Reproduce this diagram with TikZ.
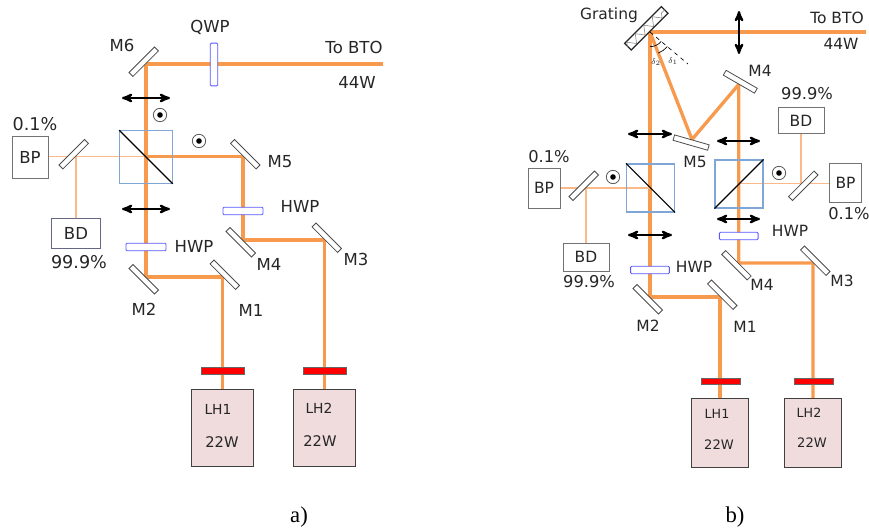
\documentclass[tikz,border=0pt]{standalone}
\usepackage{fontspec}
\setmainfont{DejaVu Sans}
\newfontfamily\capfont{Liberation Serif}
\usetikzlibrary{arrows, angles, backgrounds, decorations.pathmorphing}
\definecolor{beamcol}{HTML}{F79A4D}
\definecolor{thincol}{HTML}{FBB98A}
\definecolor{txtcol}{HTML}{262626}
\definecolor{cubecol}{HTML}{7FA6D6}
\definecolor{lhcol}{HTML}{F0DCDC}
\tikzset{
  mirrorbox/.style={draw=black!70, fill=white, line width=0.6pt, minimum width=27pt, minimum height=4.2pt, inner sep=0pt},
  hwpbox/.style={draw=blue!65, fill=white, line width=0.7pt, rounded corners=0.8pt, minimum width=30pt, minimum height=5.6pt, inner sep=0pt},
  beam/.style={draw=beamcol, line width=2.5pt, line join=round},
  thinbeam/.style={draw=thincol, line width=0.9pt},
  polarrow/.style={<->, >=stealth', line width=1.6pt},
  spot/.style={circle, draw=black!65, line width=0.6pt, minimum size=10pt, inner sep=0pt, path picture={\fill[black] (path picture bounding box.center) circle (2.1pt);}},
  cubebox/.style={draw=cubecol, line width=0.8pt, minimum size=36pt, inner sep=0pt},
  sidebox/.style={draw=black!55, fill=white, line width=0.7pt, inner sep=0pt, text=txtcol},
  lhbox/.style={draw=black!75, fill=lhcol, line width=0.8pt, inner sep=0pt},
  redbar/.style={draw=black!60, fill=red, line width=0.4pt, minimum width=32pt, minimum height=5pt, inner sep=0pt},
  lbl/.style={text=txtcol, inner sep=0pt, font=\fontsize{12.4}{14}\selectfont},
  lblb/.style={text=txtcol, inner sep=0pt, font=\fontsize{11.6}{14}\selectfont},
}

\begin{document}
\begin{tikzpicture}[x=0.75pt,y=0.75pt,yscale=-1,xscale=1]
\useasboundingbox (0,0) rectangle (869,531);

%Part a: lasers and filters
\draw (222.5,428) node (lh1a) [lhbox, minimum width=47pt, minimum height=58pt] {};
\draw (324.5,428) node (lh2a) [lhbox, minimum width=47pt, minimum height=58pt] {};
\draw (223,370.5) node (red1a) [redbar] {};
\draw (324.5,370.5) node (red2a) [redbar] {};
%Part a: mirrors
\draw (222.5,277) node (m1a) [mirrorbox, rotate=-45, anchor=south] {};
\draw (146,277) node (m2a) [mirrorbox, rotate=-45, anchor=north] {};
\draw (324.5,240) node (m3a) [mirrorbox, rotate=-45, anchor=south] {};
\draw (243,240) node (m4a) [mirrorbox, rotate=-45, anchor=north] {};
\draw (243,156.5) node (m5a) [mirrorbox, rotate=-45, anchor=south] {};
\draw (146,64) node (m6a) [mirrorbox, rotate=45, anchor=south] {};
\draw (76,156.5) node (pka) [mirrorbox, rotate=45, anchor=south] {};
%Part a: waveplates
\draw (146,247) node (hwp1a) [hwpbox] {};
\draw (243,211) node (hwp2a) [hwpbox] {};
\draw (214,64.5) node (qwpa) [hwpbox, rotate=90, minimum width=32pt] {};
%Part a: cube, dump and power meter
\draw (146,157) node (cubea) [cubebox, minimum size=39.5pt] {};
\draw (30,157.5) node (bpa) [sidebox, minimum width=27pt, minimum height=32pt, font=\fontsize{12.4}{14}\selectfont] {BP};
\draw (76,233.5) node (bda) [sidebox, minimum width=37pt, minimum height=23pt, draw=blue!20!black!60, font=\fontsize{12.4}{14}\selectfont] {BD};
\draw (160,115) node (dot1a) [spot] {};
\draw (199,141) node (dot2a) [spot] {};
\coordinate (outa) at (383,64);
\coordinate (pol1al) at (122,98);
\coordinate (pol1ar) at (170,98);
\coordinate (pol2al) at (122,209);
\coordinate (pol2ar) at (170,209);

%Part b: lasers and filters
\draw (720,433) node (lh1b) [lhbox, minimum width=43pt, minimum height=52pt] {};
\draw (813,433) node (lh2b) [lhbox, minimum width=43pt, minimum height=52pt] {};
\draw (720.5,381) node (red1b) [redbar, minimum width=29pt, minimum height=4.6pt] {};
\draw (813.5,381) node (red2b) [redbar, minimum width=29pt, minimum height=4.6pt] {};
%Part b: mirrors
\draw (720,297) node (m1b) [mirrorbox, rotate=-45, anchor=south] {};
\draw (650,297) node (m2b) [mirrorbox, rotate=-45, anchor=north] {};
\draw (813,263) node (m3b) [mirrorbox, rotate=-45, anchor=south] {};
\draw (738.7,263) node (m4b) [mirrorbox, rotate=-45, anchor=north] {};
\draw (738.7,84.5) node (m4upb) [mirrorbox, rotate=-30, anchor=south] {};
\draw (692,139.5) node (m5b) [mirrorbox, rotate=-16, anchor=north] {};
\draw (586,188) node (pk1b) [mirrorbox, rotate=45, anchor=south] {};
\draw (801,183.5) node (pk2b) [mirrorbox, rotate=45, anchor=north] {};
%Part b: grating
\draw (650,32) node (gratb) [draw=black!85, fill=white, line width=0.9pt, rotate=45, anchor=south, minimum width=39pt, minimum height=7pt, inner sep=0pt] {};
\draw [black!50, line width=0.4pt, decorate, decoration={zigzag, amplitude=3pt, segment length=9pt}] (gratb.west) -- (gratb.east);
%Part b: waveplates
\draw (650,270) node (hwp1b) [hwpbox, minimum width=29pt] {};
\draw (738.7,236) node (hwp2b) [hwpbox, minimum width=29pt] {};
%Part b: cubes, dumps and power meters
\draw (650.5,188) node (cube1b) [cubebox] {};
\draw (739,184) node (cube2b) [cubebox] {};
\draw (544,188) node (bp1b) [sidebox, minimum width=24pt, minimum height=30pt, font=\fontsize{11.6}{14}\selectfont] {BP};
\draw (586,257) node (bd1b) [sidebox, minimum width=34.5pt, minimum height=21pt, font=\fontsize{11.6}{14}\selectfont] {BD};
\draw (845.5,183) node (bp2b) [sidebox, minimum width=24pt, minimum height=29pt, font=\fontsize{11.6}{14}\selectfont] {BP};
\draw (801,120.5) node (bd2b) [sidebox, minimum width=34.5pt, minimum height=20pt, font=\fontsize{11.6}{14}\selectfont] {BD};
\draw (613,177) node (dot1b) [spot] {};
\draw (779,173) node (dot2b) [spot] {};
\coordinate (outb) at (866,32);
\coordinate (gratend) at (688,64);
\coordinate (gratfoot) at (gratb.south);
\coordinate (m2foot) at (m2b.north);
\coordinate (m5foot) at (m5b.north);
\coordinate (pol1bl) at (628,134);
\coordinate (pol1br) at (672,134);
\coordinate (pol2bl) at (628,235);
\coordinate (pol2br) at (672,235);
\coordinate (pol3bl) at (717,141);
\coordinate (pol3br) at (760,141);
\coordinate (pol4bl) at (717,219);
\coordinate (pol4br) at (760,219);
\coordinate (pol5bt) at (739,11);
\coordinate (pol5bb) at (739,54);

%Beams go under the optics
\begin{pgfonlayer}{background}
\draw [beam] (lh1a.north) -- (m1a.south) -- (m2a.north) -- (cubea.center) -- (m6a.south) -- (outa);
\draw [beam] (lh2a.north) -- (m3a.south) -- (m4a.north) -- (m5a.south) -- (m2a.north |- m5a.south);
\draw [thinbeam] (bpa.east |- pka.south) -- (m2a.north |- pka.south);
\draw [thinbeam] (pka.south) -- (bda.north);
\draw [beam] (lh1b.north) -- (m1b.south) -- (m2b.north) -- (gratb.south) -- (outb);
\draw [beam] (lh2b.north) -- (m3b.south) -- (m4b.north) -- (m4upb.south) -- (m5b.north) -- (gratb.south);
\draw [thinbeam] (bp1b.east) -- (m2b.north |- bp1b);
\draw [thinbeam] (pk1b.south) -- (bd1b.north);
\draw [thinbeam] (m4b.north |- pk2b.north) -- (bp2b.west |- pk2b.north);
\draw [thinbeam] (pk2b.north) -- (bd2b.south);
\end{pgfonlayer}

%Cube diagonals
\draw [line width=0.8pt] (cubea.north west) -- (cubea.south east);
\draw [line width=0.8pt] (cube1b.north west) -- (cube1b.south east);
\draw [line width=0.8pt] (cube2b.south west) -- (cube2b.north east);

%Polarisation arrows
\draw [polarrow] (pol1al) -- (pol1ar);
\draw [polarrow] (pol2al) -- (pol2ar);
\draw [polarrow] (pol1bl) -- (pol1br);
\draw [polarrow] (pol2bl) -- (pol2br);
\draw [polarrow] (pol3bl) -- (pol3br);
\draw [polarrow] (pol4bl) -- (pol4br);
\draw [polarrow] (pol5bt) -- (pol5bb);

%Grating angles
\draw [dashed, line width=0.5pt] (gratfoot) -- (gratend);
\pic [draw, line width=0.5pt, angle radius=11pt] {angle = m2foot--gratfoot--gratend};
\pic [draw, line width=0.5pt, angle radius=17pt] {angle = m5foot--gratfoot--gratend};

% Text Node
\draw (122,45) node (txtm6a) [lbl] {M6};
\draw (210,27) node (txtqwpa) [lbl] {QWP};
\draw (354,47) node (txtbtoa) [lbl] {To BTO};
\draw (357,82) node (txtwa) [lbl] {44W};
\draw (35,124) node (txtbpa) [lbl, font=\fontsize{13.2}{15}\selectfont] {0.1\%};
\draw (79,262) node (txtbda) [lbl, font=\fontsize{13.2}{15}\selectfont] {99.9\%};
\draw (194,246) node (txthwp1a) [lbl] {HWP};
\draw (300,206) node (txthwp2a) [lbl] {HWP};
\draw (280,162) node (txtm5a) [lbl] {M5};
\draw (269,264) node (txtm4a) [lbl] {M4};
\draw (356,259) node (txtm3a) [lbl] {M3};
\draw (144,309) node (txtm2a) [lbl] {M2};
\draw (251,310) node (txtm1a) [lbl] {M1};
\draw (218,409) node (txtlh1a) [lbl, font=\fontsize{10.4}{12}\selectfont] {LH1};
\draw (222,442) node (txtp1a) [lbl, font=\fontsize{11}{12}\selectfont] {22W};
\draw (319,408) node (txtlh2a) [lbl, font=\fontsize{10.4}{12}\selectfont] {LH2};
\draw (320,441) node (txtp2a) [lbl, font=\fontsize{11}{12}\selectfont] {22W};
% Text Node
\draw (609,15) node (txtgrat) [lblb] {Grating};
\draw (837,18) node (txtbtob) [lblb] {To BTO};
\draw (841,44) node (txtwb) [lblb] {44W};
\draw (760,71) node (txtm4upb) [lblb] {M4};
\draw (807,94) node (txtbd2b) [lblb, font=\fontsize{12.2}{14}\selectfont] {99.9\%};
\draw (695,162) node (txtm5b) [lblb] {M5};
\draw (549,157) node (txtbp1b) [lblb, font=\fontsize{12.2}{14}\selectfont] {0.1\%};
\draw (849,214) node (txtbp2b) [lblb, font=\fontsize{12.2}{14}\selectfont] {0.1\%};
\draw (790,231) node (txthwp2b) [lblb] {HWP};
\draw (694,267) node (txthwp1b) [lblb] {HWP};
\draw (589,282) node (txtbd1b) [lblb, font=\fontsize{12.2}{14}\selectfont] {99.9\%};
\draw (762,285) node (txtm4b) [lblb] {M4};
\draw (842,281) node (txtm3b) [lblb] {M3};
\draw (648,326) node (txtm2b) [lblb] {M2};
\draw (745,327) node (txtm1b) [lblb] {M1};
\draw (717,414) node (txtlh1b) [lblb, font=\fontsize{9.5}{11}\selectfont] {LH1};
\draw (719,445) node (txtp1b) [lblb, font=\fontsize{9.8}{11}\selectfont] {22W};
\draw (809,413) node (txtlh2b) [lblb, font=\fontsize{9.5}{11}\selectfont] {LH2};
\draw (812,443) node (txtp2b) [lblb, font=\fontsize{9.8}{11}\selectfont] {22W};
\draw (656,62) node (txtd2) [lblb, font=\fontsize{6}{7}\selectfont] {$\delta_2$};
\draw (673,61) node (txtd1) [lblb, font=\fontsize{6}{7}\selectfont] {$\delta_1$};
% Text Node
\draw (299,517) node (capa) [text=black, inner sep=0pt, font=\capfont\fontsize{17}{20}\selectfont] {a)};
\draw (735,517) node (capb) [text=black, inner sep=0pt, font=\capfont\fontsize{17}{20}\selectfont] {b)};

\end{tikzpicture}
\end{document}
